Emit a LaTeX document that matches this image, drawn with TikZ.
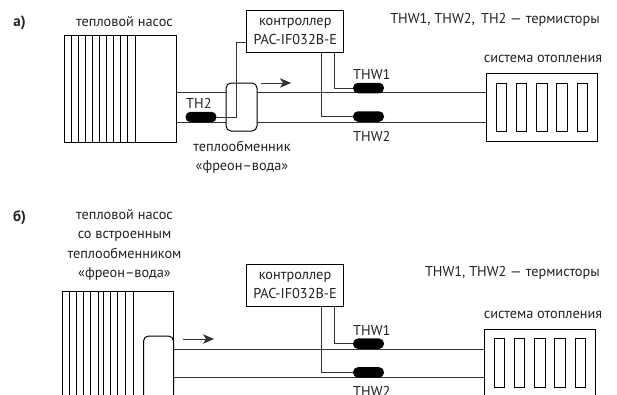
\documentclass[tikz,border=0pt]{standalone}
\usepackage{fontspec}
\setmainfont{PT Sans}
\usetikzlibrary{arrows.meta}
\definecolor{inkgray}{HTML}{222222}
\definecolor{pipegray}{HTML}{333333}
\tikzset{
  lbl/.style={font=\fontsize{14.3}{19}\selectfont,text=inkgray,align=center,inner sep=0},
  tag/.style={lbl,anchor=west},
  unitbox/.style={draw,inner sep=0,line width=1pt},
  ctrlbox/.style={unitbox,fill=white,minimum width=97,minimum height=42,lbl,text=inkgray,draw=black},
  sensor/.style={fill=black,inner sep=0,minimum width=31,minimum height=10.5,rounded corners=5pt},
  wire/.style={line width=1pt,draw=pipegray},
  mark label/.style={font=\fontsize{15}{18}\selectfont\bfseries,text=inkgray,inner sep=0},
}
\newcommand{\radbar}[4]{% x, y, name, height   (one radiator section)
  \node[unitbox,minimum width=10.4,minimum height=#4] (#3) at (#1,#2) {};}

\begin{document}
\begin{tikzpicture}[x=1pt,y=-1pt,>={Stealth[length=11pt,width=9.5pt,inset=3pt]}]
  \useasboundingbox (0,0) rectangle (617,394);
  \clip (0,0) rectangle (617,394);
  % ---- a), separate exchanger ----
  \node[mark label] (markA) at (19.5,22.5) {а)};
  \node[lbl] (titleA) at (124.5,21.5) {тепловой насос};
  \node[unitbox,minimum width=112,minimum height=107] (pumpA) at (120,88.5) {};
  \draw[line width=0.8pt] (71,35) -- (71,142) (78.3,35) -- (78.3,142) (85,35) -- (85,142)
    (92.3,35) -- (92.3,142) (99.3,35) -- (99.3,142) (106.3,35) -- (106.3,142)
    (113.3,35) -- (113.3,142) (120.7,35) -- (120.7,142) (127.7,35) -- (127.7,142)
    (135.7,35) -- (135.7,142);
  % radiator
  \node[lbl] (titleRadA) at (543,59) {система отопления};
  \node[unitbox,minimum width=111.5,minimum height=68] (radA) at (541.75,107) {};
  \radbar{501.5}{107}{barAa}{48}
  \radbar{521.5}{107}{barAb}{48}
  \radbar{542}{107}{barAc}{48}
  \radbar{562}{107}{barAd}{48}
  \radbar{582.3}{107}{barAe}{48}
  % pipes
  \coordinate (pipeAu) at (176,92.5);
  \coordinate (pipeAl) at (176,122);
  \draw[wire] (pipeAu) -- (pipeAu -| radA.west);
  \draw[wire] (pipeAl) -- (pipeAl -| radA.west);
  \node[unitbox,fill=white,rounded corners=5pt,minimum width=31,minimum height=48] (hexA) at (241.5,107) {};
  \node[lbl] (hexTextA) at (242,157.5) {теплообменник\\«фреон–вода»};
  % controller and sensors
  \node[ctrlbox] (ctrlA) at (295.25,31) {контроллер\\PAC-IF032B-E};
  \node[sensor] (thTwoA) at (201,117) {};
  \node[tag] (thTwoTextA) at (186,103.5) {TH2};
  \node[sensor] (thwOneA) at (368.5,88) {};
  \node[tag] (thwOneTextA) at (353,74.5) {THW1};
  \node[sensor] (thwTwoA) at (368.5,116.5) {};
  \node[tag] (thwTwoTextA) at (353,136) {THW2};
  \coordinate (tapThA) at (236,42);
  \coordinate (tapOneA) at (334,52);
  \coordinate (tapTwoA) at (321,52);
  \draw[wire] (thTwoA.east) -| (tapThA) -- (ctrlA.west |- tapThA);
  \draw[wire] (tapOneA) |- (thwOneA.west);
  \draw[wire] (tapTwoA) |- (thwTwoA.west);
  % flow arrow
  \coordinate (flowAs) at (261,83);
  \coordinate (flowAe) at (291,83);
  \draw[wire,->] (flowAs) -- (flowAe);
  \node[lbl,anchor=east] (noteA) at (600,20) {THW1, THW2,\, TH2 — термисторы};
  % ---- b), built-in exchanger ----
  \node[mark label] (markB) at (19.5,218) {б)};
  \node[lbl,font=\fontsize{14.3}{19.4}\selectfont] (titleB) at (124.5,245) {тепловой насос\\со встроенным\\теплообменником\\«фреон–вода»};
  \node[unitbox,minimum width=111,minimum height=139] (pumpB) at (118,360.5) {};
  \draw[line width=0.8pt] (69.3,291) -- (69.3,400) (76.7,291) -- (76.7,400) (83.3,291) -- (83.3,400)
    (90.7,291) -- (90.7,400) (98,291) -- (98,400) (103.3,291) -- (103.3,400)
    (110.3,291) -- (110.3,400) (117.7,291) -- (117.7,400) (125,291) -- (125,400)
    (133.3,291) -- (133.3,400);
  \node[unitbox,fill=white,rounded corners=5pt,minimum width=30,minimum height=90] (hexB) at (158.5,381) {};
  % radiator
  \node[lbl] (titleRadB) at (543,315) {система отопления};
  \node[unitbox,minimum width=111.5,minimum height=90] (radB) at (540,374) {};
  \radbar{499.5}{363}{barBa}{49}
  \radbar{519.5}{363}{barBb}{49}
  \radbar{540}{363}{barBc}{49}
  \radbar{560}{363}{barBd}{49}
  \radbar{580.3}{363}{barBe}{49}
  % pipes
  \coordinate (pipeBu) at (173.5,349);
  \coordinate (pipeBl) at (173.5,377.7);
  \draw[wire] (pipeBu) -- (pipeBu -| radB.west);
  \draw[wire] (pipeBl) -- (pipeBl -| radB.west);
  % controller and sensors
  \node[ctrlbox] (ctrlB) at (295,285.2) {контроллер\\PAC-IF032B-E};
  \node[sensor] (thwOneB) at (368.5,343.7) {};
  \node[tag] (thwOneTextB) at (353,330) {THW1};
  \node[sensor] (thwTwoB) at (368.5,372.4) {};
  \node[tag] (thwTwoTextB) at (353,391.5) {THW2};
  \coordinate (tapOneB) at (334,306);
  \coordinate (tapTwoB) at (321,306);
  \draw[wire] (tapOneB) |- (thwOneB.west);
  \draw[wire] (tapTwoB) |- (thwTwoB.west);
  % flow arrow
  \coordinate (flowBs) at (183,339);
  \coordinate (flowBe) at (214,339);
  \draw[wire,->] (flowBs) -- (flowBe);
  \node[lbl,anchor=east] (noteB) at (600,273) {THW1, THW2 — термисторы};
\end{tikzpicture}
\end{document}
